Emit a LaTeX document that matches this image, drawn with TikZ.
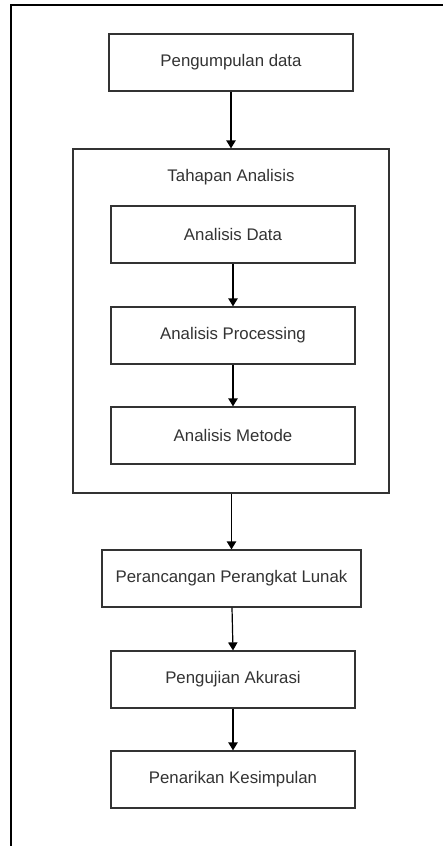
\documentclass[tikz,border=0pt]{standalone}
\usepackage{fontspec}
\setmainfont{Liberation Sans}
\usetikzlibrary{arrows.meta}
\definecolor{ln}{HTML}{333333}
\definecolor{tx}{HTML}{333333}
\tikzset{
  px/.style={x=0.75pt,y=-0.75pt},
  box/.style={draw=ln,line width=0.9pt,fill=white,text=tx,inner sep=0pt,
    font=\fontsize{12.6}{15}\selectfont},
  conn/.style={draw=black,line width=0.9pt,-{Triangle[width=7pt,length=6pt]}},
  frame/.style={draw=black,line width=1.5pt}
}
\begin{document}
\begin{tikzpicture}[px]
\useasboundingbox (0,0) rectangle (443,846);
\draw[frame] (11,846) -- (11,5) -- (443,5);
% container
\node[box,minimum width=316*0.75pt,minimum height=344*0.75pt] (cont) at (231,321) {};
\node[text=tx,font=\fontsize{12.6}{15}\selectfont] (ctitle) at (231,177) {Tahapan Analisis};
\node[box,minimum width=244*0.75pt,minimum height=57*0.75pt] (pd) at (231,62.5) {Pengumpulan data};
\node[box,minimum width=244*0.75pt,minimum height=57*0.75pt] (ad) at (233,234.5) {Analisis Data};
\node[box,minimum width=244*0.75pt,minimum height=57*0.75pt] (ap) at (233,335.5) {Analisis Processing};
\node[box,minimum width=244*0.75pt,minimum height=57*0.75pt] (am) at (233,435.5) {Analisis Metode};
\node[box,minimum width=259*0.75pt,minimum height=57*0.75pt] (pr) at (231.5,578.5) {Perancangan Perangkat Lunak};
\node[box,minimum width=244*0.75pt,minimum height=57*0.75pt] (pa) at (233,679.5) {Pengujian Akurasi};
\node[box,minimum width=244*0.75pt,minimum height=57*0.75pt] (pk) at (233,779.5) {Penarikan Kesimpulan};
\draw[conn] (pd.south -| 231,0) -- (cont.north -| 231,0);
\draw[conn] (ad) -- (ap);
\draw[conn] (ap) -- (am);
\draw[conn] (cont.south -| 231.5,0) -- (pr.north -| 231.5,0);
\draw[conn] (pr.south -| 232,0) -- (pa.north);
\draw[conn] (pa) -- (pk);
\end{tikzpicture}
\end{document}
